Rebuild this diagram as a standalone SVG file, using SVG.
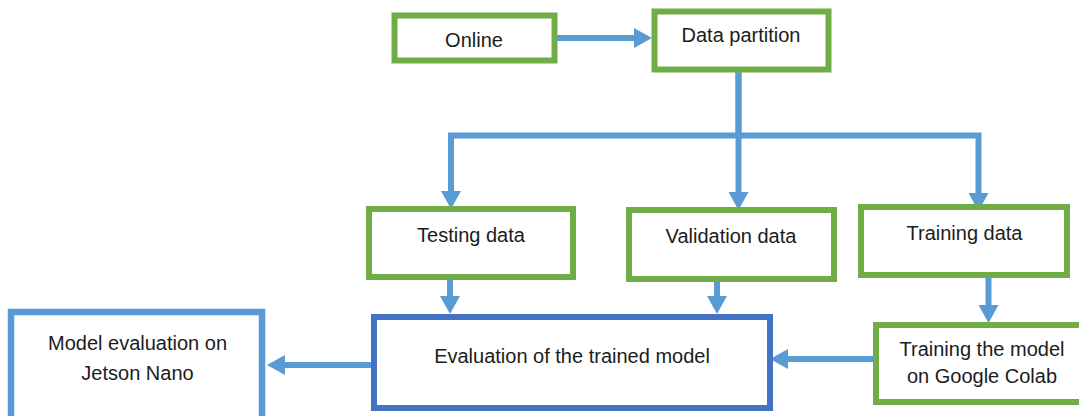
<svg xmlns="http://www.w3.org/2000/svg" width="1079" height="416" viewBox="0 0 1079 416">
  <style>
    .g { fill: #ffffff; stroke: #70AD47; stroke-width: 6; }
    .b { fill: #ffffff; stroke: #4472C4; stroke-width: 6; }
    .lb { fill: #ffffff; stroke: #5B9BD5; stroke-width: 6.5; }
    .t { font-family: "Liberation Sans", Arial, sans-serif; font-size: 20px; fill: #1c1c1c; text-anchor: middle; }
    .c { fill: none; stroke: #5B9BD5; stroke-width: 6; stroke-linejoin: miter; }
  </style>
  <defs>
    <marker id="ah" markerUnits="userSpaceOnUse" markerWidth="18" markerHeight="20" viewBox="0 0 18 20" refX="0" refY="10" orient="auto">
      <path d="M0,0 L18,10 L0,20 Z" fill="#5B9BD5"/>
    </marker>
  </defs>
  <rect width="1079" height="416" fill="#ffffff"/>

  <g id="connectors">
    <path class="c" d="M557,38 H634" marker-end="url(#ah)"/>
    <path class="c" d="M738.5,72 V135.5 H451 V191" marker-end="url(#ah)"/>
    <path class="c" d="M738.5,135.5 H978.5 V193" marker-end="url(#ah)"/>
    <path class="c" d="M738.5,72 V192" marker-end="url(#ah)"/>
    <path class="c" d="M450,280 V296" marker-end="url(#ah)"/>
    <path class="c" d="M717,282 V296" marker-end="url(#ah)"/>
    <path class="c" d="M988.5,278 V305" marker-end="url(#ah)"/>
    <path class="c" d="M873,359 H788" marker-end="url(#ah)"/>
    <path class="c" d="M371,365 H285" marker-end="url(#ah)"/>
  </g>

  <g id="online">
    <rect class="g" x="394.5" y="15.5" width="160" height="45"/>
    <text class="t" x="474" y="47">Online</text>
  </g>
  <g id="data-partition">
    <rect class="g" x="654.5" y="11.5" width="174" height="58"/>
    <text class="t" x="741" y="42">Data partition</text>
  </g>
  <g id="testing-data">
    <rect class="g" x="369" y="209" width="204" height="68"/>
    <text class="t" x="471" y="242">Testing data</text>
  </g>
  <g id="validation-data">
    <rect class="g" x="629" y="210" width="205" height="69"/>
    <text class="t" x="731" y="243">Validation data</text>
  </g>
  <g id="training-data">
    <rect class="g" x="861" y="207" width="206" height="68"/>
    <text class="t" x="964.5" y="240">Training data</text>
  </g>
  <g id="training-model">
    <rect class="g" x="876" y="325" width="212" height="77"/>
    <text class="t" x="982" y="356">Training the model</text>
    <text class="t" x="982" y="383">on Google Colab</text>
  </g>
  <g id="evaluation">
    <rect class="b" x="374" y="317" width="396" height="91"/>
    <text class="t" x="572" y="363">Evaluation of the trained model</text>
  </g>
  <g id="model-evaluation">
    <rect class="lb" x="11" y="312" width="251" height="115"/>
    <text class="t" x="137.5" y="350">Model evaluation on</text>
    <text class="t" x="137.5" y="380">Jetson Nano</text>
  </g>
</svg>
